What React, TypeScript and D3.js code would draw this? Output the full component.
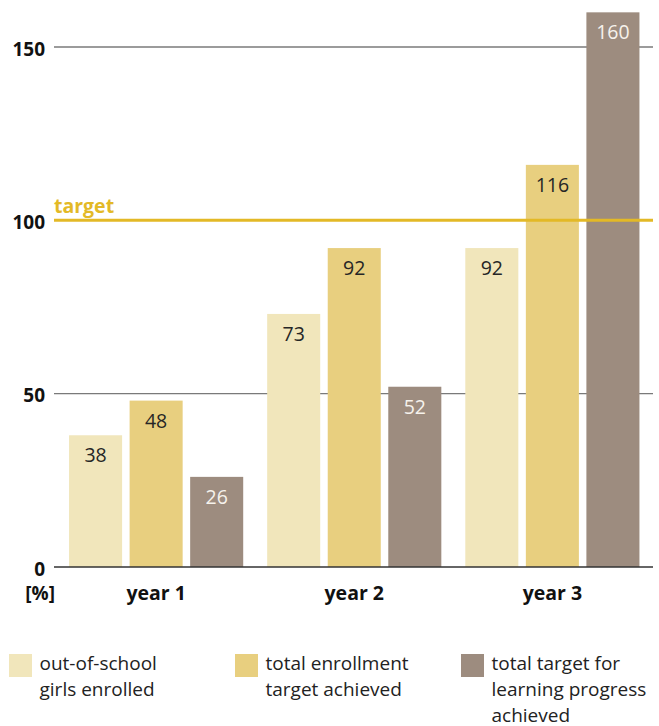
import React from "react";
import * as d3 from "d3";

const years = ["year 1", "year 2", "year 3"];
const seriesNames = [
  "out-of-school girls enrolled",
  "total enrollment target achieved",
  "total target for learning progress achieved",
];
const outOfSchool = [38, 73, 92];
const totalEnrollment = [48, 92, 116];
const learningProgress = [26, 52, 160];
const yTicks = [0, 50, 100, 150];
const targetValue = 100;
const legendLines = [
  ["out-of-school", "girls enrolled"],
  ["total enrollment", "target achieved"],
  ["total target for", "learning progress", "achieved"],
];

const colors = ["#f1e6bb", "#e8cf7f", "#9d8c7f"];
const labelColors = ["#262626", "#262626", "#f6f2ec"];
const FONT = "'Open Sans', 'Noto Sans', sans-serif";

export default function App() {
  const W = 659;
  const H = 726;
  const x0 = d3
    .scaleBand<string>()
    .domain(years)
    .range([54, 654.5])
    .paddingInner(0.121)
    .paddingOuter(0.076);
  const x1 = d3
    .scaleBand<number>()
    .domain([0, 1, 2])
    .range([0, x0.bandwidth()])
    .paddingInner(0.124)
    .paddingOuter(0);
  const y = d3.scaleLinear().domain([0, 150]).range([567, 47]);
  const series = [outOfSchool, totalEnrollment, learningProgress];

  const legendX = [9, 235, 461];

  return (
    <svg
      width={W}
      height={H}
      style={{ position: "absolute", left: 0, top: 0, background: "#fff" }}
      fontFamily={FONT}
    >
      {/* gridlines */}
      {yTicks
        .filter((t) => t !== 0 && t !== targetValue)
        .map((t) => (
          <line
            key={t}
            x1={54}
            x2={653}
            y1={y(t)}
            y2={y(t)}
            stroke="#7a7a7a"
            strokeWidth={1.3}
          />
        ))}
      {/* bars */}
      {years.map((yr, gi) => (
        <g key={yr} transform={`translate(${x0(yr)},0)`}>
          {series.map((s, si) => (
            <g key={si}>
              <rect
                x={x1(si)}
                y={y(s[gi])}
                width={x1.bandwidth()}
                height={y(0) - y(s[gi])}
                fill={colors[si]}
              />
              <text
                x={(x1(si) as number) + x1.bandwidth() / 2}
                y={y(s[gi]) + 27}
                textAnchor="middle"
                fontSize={19.5}
                fill={labelColors[si]}
              >
                {s[gi]}
              </text>
            </g>
          ))}
        </g>
      ))}
      {/* baseline */}
      <line x1={54} x2={653} y1={y(0)} y2={y(0)} stroke="#333" strokeWidth={1.3} />
      {/* target line */}
      <line
        x1={54}
        x2={653}
        y1={y(targetValue)}
        y2={y(targetValue)}
        stroke="#e3b926"
        strokeWidth={3}
      />
      <text x={54} y={y(targetValue) - 7.5} fontSize={19.5} fontWeight={700} fill="#e3b926">
        target
      </text>
      {/* y tick labels */}
      {yTicks.map((t) => (
        <text
          key={t}
          x={45}
          y={y(t) + 8.5}
          textAnchor="end"
          fontSize={19}
          fontWeight={700}
          fill="#111"
        >
          {t}
        </text>
      ))}
      <text x={55} y={600} textAnchor="end" fontSize={19} fontWeight={700} fill="#111">
        [%]
      </text>
      {/* x labels */}
      {years.map((yr) => (
        <text
          key={yr}
          x={(x0(yr) as number) + x0.bandwidth() / 2}
          y={600}
          textAnchor="middle"
          fontSize={19.5}
          fontWeight={700}
          fill="#111"
        >
          {yr}
        </text>
      ))}
      {/* legend */}
      {seriesNames.map((name, i) => (
        <g key={name}>
          <rect x={legendX[i]} y={654} width={23} height={23} fill={colors[i]} />
          <text fontSize={19} fill="#222">
            {legendLines[i].map((ln, li) => (
              <tspan key={li} x={legendX[i] + 30.5} y={669.5 + li * 26}>
                {ln}
              </tspan>
            ))}
          </text>
        </g>
      ))}
    </svg>
  );
}
